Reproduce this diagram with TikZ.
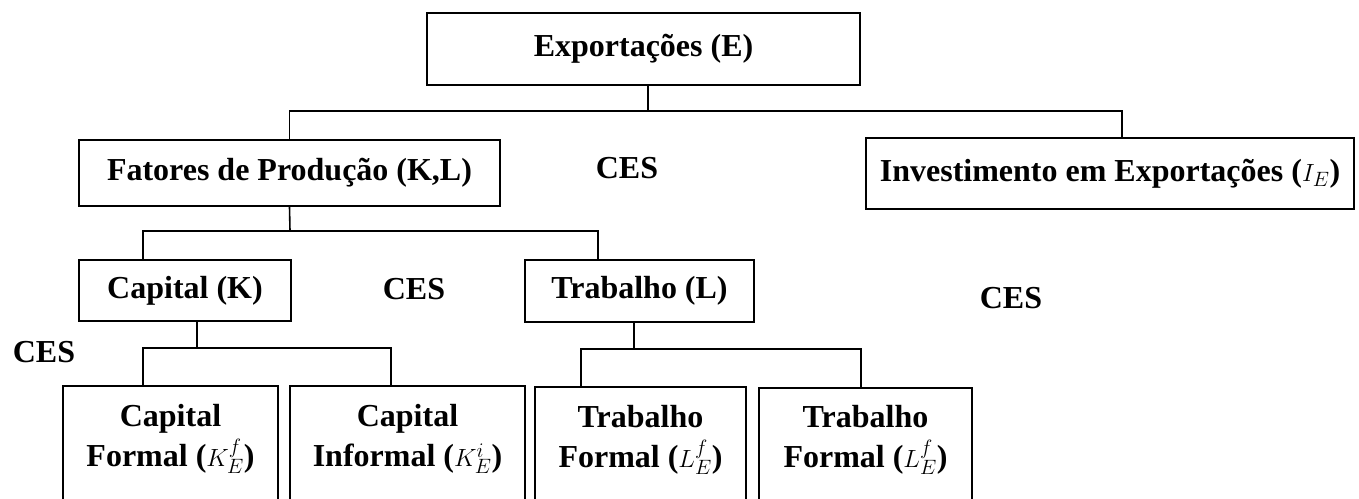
\documentclass[tikz,border=0pt]{standalone}
\usepackage{fontspec}
\setmainfont{Liberation Serif}
\begin{document}
\begin{tikzpicture}[x=1pt,y=-1pt,
  box/.style={draw,line width=1.6pt,rectangle,inner sep=0pt},
  lbl/.style={font=\fontsize{32}{40}\selectfont\bfseries,inner sep=0pt,align=center},
  conn/.style={line width=1.6pt}]
\useasboundingbox (0,0) rectangle (1359,498);
\clip (0,0) rectangle (1359,498);
% top level
\node[box,lbl,minimum width=433pt,minimum height=72pt] (E) at (643.5,49) {Exportações (E)};
\node[box,lbl,minimum width=421pt,minimum height=66pt] (fat) at (289.5,173) {Fatores de Produção (K,L)};
\node[box,lbl,minimum width=488pt,minimum height=71pt] (ie) at (1110,173.5) {Investimento em Exportações ($I_E$)};
% second level
\node[box,lbl,minimum width=212pt,minimum height=61pt] (cap) at (185,290.5) {Capital (K)};
\node[box,lbl,minimum width=229pt,minimum height=62pt] (trab) at (639.5,291) {Trabalho (L)};
% bottom boxes (cut at the page edge)
\node[box,minimum width=215pt,minimum height=140pt] (kf) at (170.5,456) {};
\node[box,minimum width=235pt,minimum height=140pt] (ki) at (407.5,456) {};
\node[box,minimum width=211pt,minimum height=140pt] (lf1) at (640.5,457) {};
\node[box,minimum width=213pt,minimum height=140pt] (lf2) at (865.5,458) {};
\node[lbl] (kft) at (170.5,439) {Capital\\Formal ($K_E^f$)};
\node[lbl] (kit) at (407.5,439) {Capital\\Informal ($K_E^i$)};
\node[lbl] (lf1t) at (640.5,440) {Trabalho\\Formal ($L_E^f$)};
\node[lbl] (lf2t) at (865.5,440) {Trabalho\\Formal ($L_E^f$)};
% CES labels
\node[lbl] (ces1) at (627,168) {CES};
\node[lbl] (ces2) at (414,289) {CES};
\node[lbl] (ces3) at (1011,298) {CES};
\node[lbl] (ces4) at (44,352) {CES};
% junctions
\coordinate (j1) at (648,111);
\coordinate (j2) at (290,231);
\coordinate (j3) at (197,348);
\coordinate (j4) at (634,349);
% connectors
\draw[conn] ([xshift=4.5pt]E.south) -- (j1);
\draw[conn] (fat.north) |- (j1);
\draw[conn] ([xshift=12pt]ie.north) |- (j1);
\draw[conn] (fat.south) -- (j2);
\draw[conn] ([xshift=-42pt]cap.north) |- (j2);
\draw[conn] ([xshift=-41.5pt]trab.north) |- (j2);
\draw[conn] ([xshift=12pt]cap.south) -- (j3);
\draw[conn] ([xshift=-27.5pt]kf.north) |- (j3);
\draw[conn] ([xshift=-16.5pt]ki.north) |- (j3);
\draw[conn] ([xshift=-5.5pt]trab.south) -- (j4);
\draw[conn] ([xshift=-59.5pt]lf1.north) |- (j4);
\draw[conn] ([xshift=-4.5pt]lf2.north) |- (j4);
\end{tikzpicture}
\end{document}
